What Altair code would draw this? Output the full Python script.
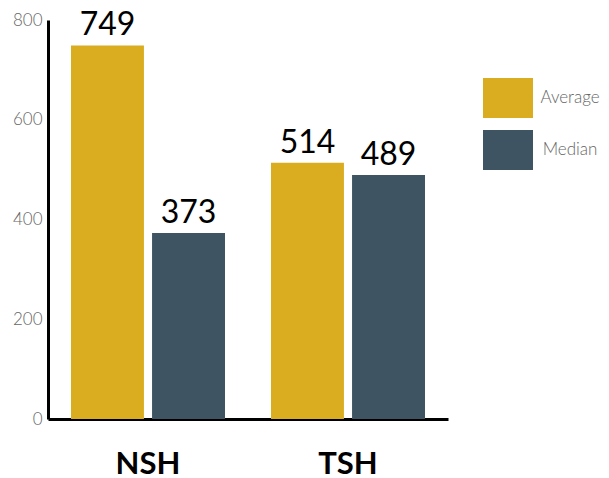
import altair as alt
import pandas as pd

groups = ["NSH", "NSH", "TSH", "TSH"]
stats = ["Average", "Median", "Average", "Median"]
values = [749, 373, 514, 489]
y_ticks = [0, 200, 400, 600, 800]
colors = ["#DAAD20", "#3E5463"]

df = pd.DataFrame({"group": groups, "stat": stats, "value": values})

rect_path = "M-1.25,-1L1.25,-1L1.25,1L-1.25,1Z"

base = alt.Chart(df).encode(
    x=alt.X("group:N", sort=["NSH", "TSH"],
            scale=alt.Scale(paddingInner=0.23, paddingOuter=0.115),
            axis=alt.Axis(title=None, labelAngle=0, ticks=False, domainColor="black",
                          domainWidth=3, labelFont="Lato", labelFontWeight="bold",
                          labelFontSize=31, labelColor="black", labelPadding=30)),
    xOffset=alt.XOffset("stat:N", sort=["Average", "Median"],
                        scale=alt.Scale(paddingInner=0.1, paddingOuter=0)),
    y=alt.Y("value:Q", scale=alt.Scale(domain=[0, 800], nice=False),
            axis=alt.Axis(title=None, values=y_ticks, grid=False, ticks=False,
                          domainColor="black", domainWidth=3, labelFont="Lato",
                          labelFontWeight=300, labelFontSize=17, labelColor="#666666",
                          labelPadding=6)),
)

bars = base.mark_bar().encode(
    color=alt.Color("stat:N", sort=["Average", "Median"],
                    scale=alt.Scale(domain=["Average", "Median"], range=colors),
                    legend=alt.Legend(title=None, orient="none", legendX=440, legendY=58,
                                      symbolType=rect_path, symbolSize=1600,
                                      symbolStrokeWidth=0, symbolOpacity=1,
                                      rowPadding=12, labelFont="Lato", labelFontSize=17,
                                      labelFontWeight=300, labelColor="#666666",
                                      labelAlign="center", labelOffset=42, padding=0))
)

text = base.mark_text(baseline="bottom", dy=-3, font="Lato", fontSize=32,
                      color="black").encode(text="value:Q")

chart = (bars + text).properties(
    width=400, height=399,
    autosize=alt.AutoSizeParams(type="none"),
    padding={"left": 40, "top": 12, "right": 153, "bottom": 60},
).configure_view(stroke=None)

chart.save("out.html", embed_options={"renderer": "svg", "actions": False})
